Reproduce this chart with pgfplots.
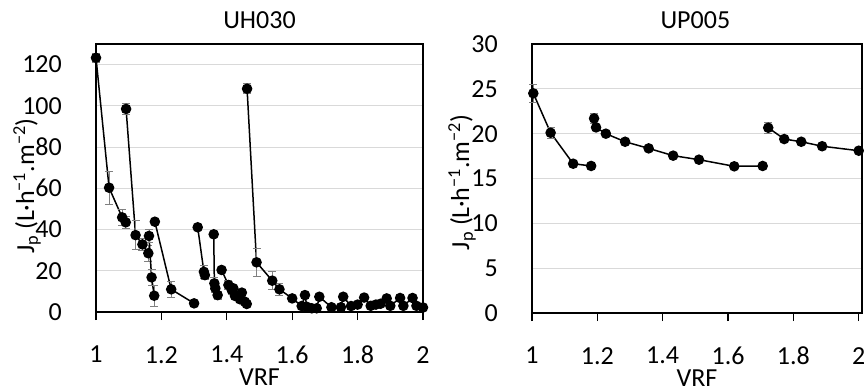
\documentclass[border=0pt]{standalone}
\usepackage{pgfplots}
\pgfplotsset{compat=1.18}
\usepackage{fontspec}
\setmainfont{Carlito}
\definecolor{gridc}{HTML}{D9D9D9}
\definecolor{errc}{HTML}{808080}
\newcommand{\bigf}{\fontsize{26}{31}\selectfont}
\newcommand{\jlabel}{J\textsubscript{p} (L·h\textsuperscript{−1}.m\textsuperscript{−2})}
\pgfplotsset{
  myax/.style={
    scale only axis,
    font=\bigf,
    tick label style={font=\bigf},
    /pgf/number format/assume math mode=true,
    axis line style={black, line width=1.2pt},
    clip=false,
    xmin=1,
    xtick={1,1.2,1.4,1.6,1.8,2},
    xticklabels={1,1.2,1.4,1.6,1.8,2},
    ymajorgrids,
    grid style={gridc, line width=1pt},
    xtick pos=bottom, ytick pos=left,
    tick align=outside,
    major tick length=8pt,
    xtick style={black, line width=1.2pt},
    ytick style={draw=none},
    yticklabel style={anchor=east, inner sep=0pt, xshift=-26pt},
    xticklabel style={anchor=north, inner sep=0pt, yshift=-26pt},
    title style={at={(axis description cs:0.5,1)}, anchor=base, yshift=10pt, font=\bigf},
    xlabel style={at={(axis description cs:0.5,0)}, anchor=base, inner sep=0pt, yshift=-73pt, font=\bigf},
    xlabel={VRF},
  },
  ser/.style={
    black, solid, line width=1.5pt, mark=*, mark size=4.5pt,
    mark options={fill=black, solid},
    error bars/.cd, y dir=both, y explicit,
    error bar style={line width=0.8pt, errc, solid},
    error mark options={rotate=90, mark size=4pt, line width=0.8pt, errc, solid},
  },
}
\begin{document}
\begin{tikzpicture}
\useasboundingbox (0pt,0pt) rectangle (864pt,-389pt);
% ---------------- UH030 ----------------
\begin{axis}[myax,
  at={(96pt,-312pt)}, anchor=south west,
  width=327pt, height=268pt,
  xmax=2, ymin=0, ymax=130,
  ytick={0,20,40,60,80,100,120},
  title={UH030},
]
\addplot[ser] table[x=x,y=y,y error=e,row sep=\\] {
x y e\\
1.000 123.3 2\\ 1.040 60.3 8\\ 1.080 45.9 4\\ 1.091 43.5 3\\
};
\addplot[ser] table[x=x,y=y,y error=e,row sep=\\] {
x y e\\
1.092 98.5 2.5\\ 1.121 37.3 7\\ 1.142 32.8 3\\ 1.160 28.5 4\\
};
\addplot[ser] table[x=x,y=y,y error=e,row sep=\\] {
x y e\\
1.162 36.9 3\\ 1.170 16.8 4\\ 1.178 7.9 5\\
};
\addplot[ser] table[x=x,y=y,y error=e,row sep=\\] {
x y e\\
1.180 43.8 0\\ 1.230 11.0 4\\ 1.300 4.2 1\\
};
\addplot[ser] table[x=x,y=y,y error=e,row sep=\\] {
x y e\\
1.311 41.1 0\\ 1.330 19.5 3\\ 1.333 17.9 2\\
};
\addplot[ser] table[x=x,y=y,y error=e,row sep=\\] {
x y e\\
1.360 37.7 0\\ 1.362 13.9 3\\ 1.365 11.5 2\\ 1.372 8.2 2\\
};
\addplot[ser] table[x=x,y=y,y error=e,row sep=\\] {
x y e\\
1.384 20.4 0\\ 1.405 13.1 2\\ 1.415 10.7 2\\ 1.420 11.5 1\\ 1.425 7.8 1\\
1.440 6.2 1\\ 1.446 9.4 1\\ 1.455 5.0 1\\ 1.461 3.9 0\\
};
\addplot[ser] table[x=x,y=y,y error=e,row sep=\\] {
x y e\\
1.462 108.3 2.5\\ 1.491 24.1 6.6\\ 1.539 15.2 4.4\\ 1.561 11.0 3\\ 1.600 6.6 1\\
1.629 2.9 1\\ 1.639 8.2 1\\ 1.645 2.5 1\\ 1.660 1.8 0.5\\ 1.675 1.8 0.5\\
1.683 7.4 1\\ 1.720 2.3 0.5\\ 1.749 2.3 0.5\\ 1.756 7.4 1\\ 1.780 2.9 1\\
1.800 3.6 1\\ 1.820 7.0 1\\ 1.840 3.0 1\\ 1.856 3.6 1\\ 1.870 4.0 1\\
1.889 6.6 1\\ 1.900 3.0 1\\ 1.930 6.8 1\\ 1.940 3.0 1\\ 1.968 6.8 1\\
1.980 3.0 1\\ 2.000 2.2 0.5\\
};
\path (rel axis cs:0,0.5) ++(-69pt,-8pt) node[rotate=90, anchor=center, inner sep=0pt, font=\bigf] {\jlabel};
\end{axis}
% ---------------- UP005 ----------------
\begin{axis}[myax,
  at={(532pt,-313pt)}, anchor=south west,
  width=330pt, height=269pt,
  xmax=2.01, ymin=0, ymax=30,
  ytick={0,5,10,15,20,25,30},
  title={UP005},
  title style={at={(axis description cs:0.495,1)}},
]
\addplot[ser] table[x=x,y=y,y error=e,row sep=\\] {
x y e\\
1.004 24.5 1\\ 1.057 20.1 0.6\\ 1.126 16.65 0\\ 1.181 16.4 0\\
};
\addplot[ser] table[x=x,y=y,y error=e,row sep=\\] {
x y e\\
1.190 21.7 0.6\\ 1.196 20.7 0.3\\ 1.226 20.0 0\\ 1.285 19.1 0\\ 1.357 18.36 0\\
1.432 17.55 0\\ 1.511 17.1 0\\ 1.619 16.36 0\\ 1.706 16.4 0\\
};
\addplot[ser] table[x=x,y=y,y error=e,row sep=\\] {
x y e\\
1.723 20.66 0.6\\ 1.772 19.4 0\\ 1.824 19.1 0\\ 1.888 18.6 0\\ 2.000 18.1 0\\
};
\path (rel axis cs:0,0.5) ++(-70pt,-4pt) node[rotate=90, anchor=center, inner sep=0pt, font=\bigf] {\jlabel};
\end{axis}
\end{tikzpicture}
\end{document}
